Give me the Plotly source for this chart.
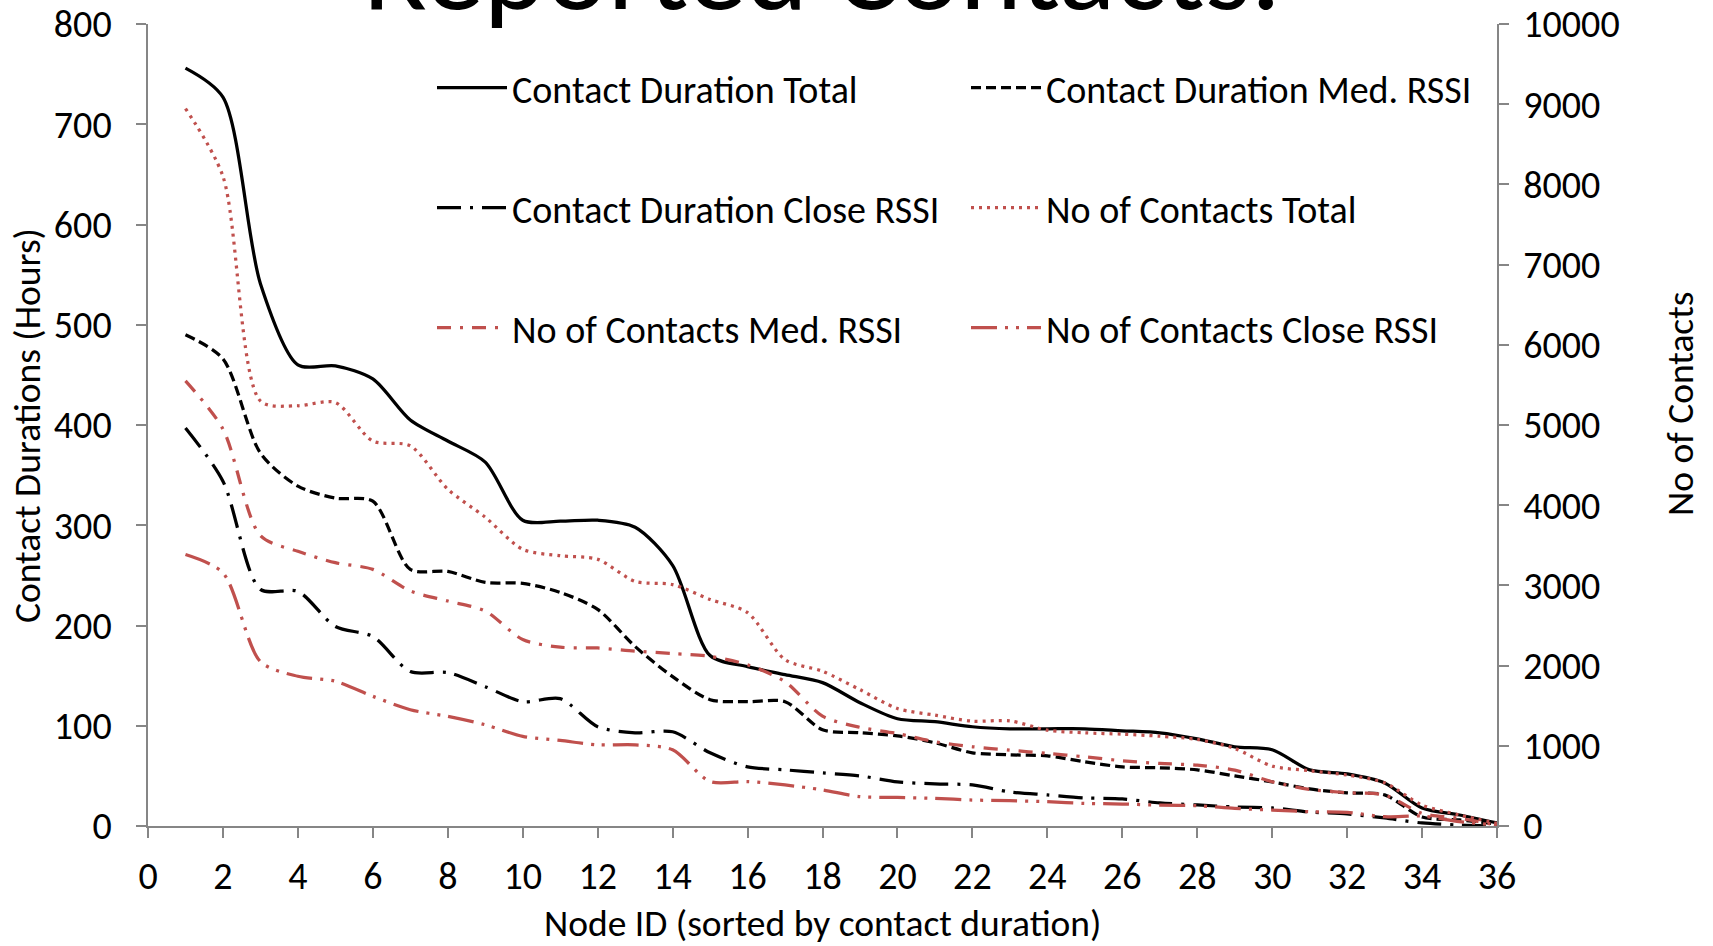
import plotly.graph_objects as go

node_id = list(range(1, 37))

dur_total = [756, 727, 541, 460, 459, 446, 405, 384, 363, 305, 304, 305, 298, 260, 170, 159,
             151, 143, 123, 107, 104, 99, 97, 97, 97, 95, 93, 87, 79, 76, 56, 52, 43, 18, 11, 3]
dur_med = [490, 466, 372, 339, 327, 324, 256, 254, 243, 242, 233, 216, 179, 149, 126, 124,
           124, 96, 93, 90, 83, 73, 71, 70, 64, 59, 58, 56, 50, 44, 37, 33, 31, 9, 6, 2]
dur_close = [397, 344, 236, 234, 199, 189, 154, 153, 139, 124, 127, 99, 93, 94, 73, 59,
             56, 53, 50, 44, 42, 41, 34, 31, 28, 27, 23, 21, 19, 18, 14, 12, 8, 3, 1, 0]
cnt_total = [8946, 8100, 5300, 5240, 5280, 4800, 4740, 4200, 3850, 3450, 3370, 3325, 3050, 3010,
             2825, 2660, 2075, 1930, 1700, 1465, 1382, 1307, 1311, 1195, 1162, 1145, 1120, 1079,
             967, 747, 689, 635, 539, 261, 137, 33]
cnt_med = [5550, 4950, 3620, 3425, 3283, 3200, 2930, 2805, 2680, 2325, 2230, 2220, 2180, 2150,
           2115, 2010, 1800, 1370, 1230, 1153, 1050, 988, 946, 905, 863, 813, 780, 759, 697,
           552, 456, 415, 386, 158, 95, 12]
cnt_close = [3385, 3157, 2050, 1867, 1805, 1617, 1450, 1367, 1262, 1117, 1067, 1012, 1012, 950,
             554, 554, 512, 450, 366, 357, 344, 324, 315, 303, 282, 274, 261, 253, 220, 199,
             178, 170, 116, 124, 54, 12]

names = ["Contact Duration Total", "Contact Duration Med. RSSI", "Contact Duration Close RSSI",
         "No of Contacts Total", "No of Contacts Med. RSSI", "No of Contacts Close RSSI"]

BLACK = "#000000"
RED = "#C0504D"
FONT = "Carlito, Calibri, Lato, sans-serif"

fig = go.Figure()
specs = [
    (dur_total, "y", BLACK, "solid", "legend"),
    (dur_med, "y", BLACK, "10px,5px", "legend"),
    (dur_close, "y", BLACK, "24px,9px,3px,9px", "legend2"),
    (cnt_total, "y2", RED, "3px,5px", "legend2"),
    (cnt_med, "y2", RED, "14px,9px,3px,9px", "legend3"),
    (cnt_close, "y2", RED, "26px,8px,3px,8px,3px,8px", "legend3"),
]
for (vals, ax, col, dash, lg), nm in zip(specs, names):
    fig.add_trace(go.Scatter(
        x=node_id, y=vals, yaxis=ax, name=nm, mode="lines",
        line=dict(color=col, width=3.25, dash=dash, shape="spline", smoothing=0.8),
        legend=lg,
    ))

W, H = 1713, 946
L, T = 148, 24
R = W - 1497
B = H - 826
pw, ph = W - L - R, H - T - B

def py(ypix):
    return 1 - (ypix - T) / ph

def px(xpix):
    return (xpix - L) / pw

axis_common = dict(showline=True, linecolor="#868686", linewidth=1.5, ticks="outside",
                   ticklen=10, tickcolor="#868686", tickwidth=1.5, showgrid=False,
                   zeroline=False, ticklabeloverflow="allow",
                   tickfont=dict(family=FONT, size=38, color="black"))

legend_common = dict(orientation="h", xanchor="left", yanchor="middle",
                     font=dict(family=FONT, size=38, color="black"),
                     bgcolor="rgba(0,0,0,0)", entrywidth=449, entrywidthmode="pixels",
                     itemwidth=70, tracegroupgap=0)

fig.update_layout(
    width=W, height=H, margin=dict(l=L, r=R, t=T, b=B, autoexpand=False),
    paper_bgcolor="white", plot_bgcolor="white", showlegend=True,
    xaxis=dict(range=[0, 36], dtick=2, tick0=0, ticklabelstandoff=6, **axis_common),
    yaxis=dict(range=[0, 800], dtick=100, ticklabelstandoff=17, **axis_common),
    yaxis2=dict(range=[0, 10000], dtick=1000, overlaying="y", side="right", tickformat="d",
                ticklabelstandoff=7, **axis_common),
    legend=dict(x=px(432), y=py(88), **legend_common),
    legend2=dict(x=px(432), y=py(208), **legend_common),
    legend3=dict(x=px(432), y=py(328), **legend_common),
    annotations=[
        dict(text="Reported Contacts.", xref="paper", yref="paper", x=px(822), y=1,
             yshift=55, xanchor="center", yanchor="middle", showarrow=False,
             font=dict(family=FONT, size=118, color="black")),
        dict(text="Contact Durations (Hours)", xref="paper", yref="paper", x=px(27), y=py(426),
             textangle=-90, xanchor="center", yanchor="middle", showarrow=False,
             font=dict(family=FONT, size=37.5, color="black")),
        dict(text="No of Contacts", xref="paper", yref="paper", x=px(1680), y=py(404),
             textangle=-90, xanchor="center", yanchor="middle", showarrow=False,
             font=dict(family=FONT, size=37.5, color="black")),
        dict(text="Node ID (sorted by contact duration)", xref="paper", yref="paper",
             x=px(822), y=py(923), xanchor="center", yanchor="middle", showarrow=False,
             font=dict(family=FONT, size=37.5, color="black")),
    ],
)

fig.write_html("out.html", config={"displayModeBar": False},
               post_script="document.body.style.margin='0';")
